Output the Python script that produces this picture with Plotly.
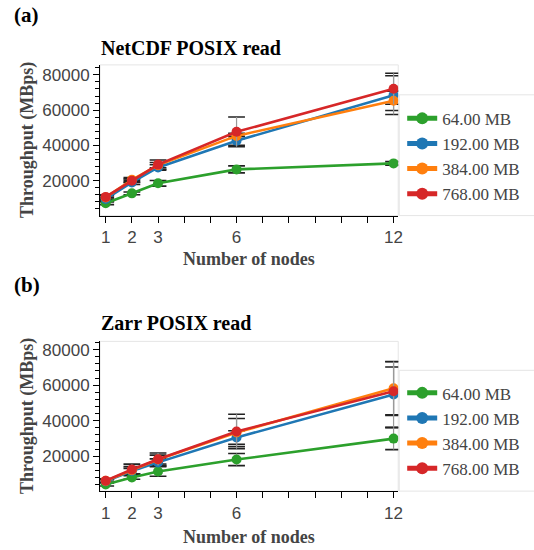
import plotly.graph_objects as go

nodes = [1, 2, 3, 6, 12]
x_tick_labels = {1: "1", 2: "2", 3: "3", 6: "6", 12: "12"}
sizes = ["64.00 MB", "192.00 MB", "384.00 MB", "768.00 MB"]
colors = ["#2ca02c", "#1f77b4", "#ff7f0e", "#d62728"]

# NetCDF POSIX read (MBps)
netcdf_64 = [7200, 12800, 18500, 26400, 29800]
netcdf_192 = [9600, 19000, 27500, 42600, 68500]
netcdf_384 = [10500, 20500, 28800, 45400, 65300]
netcdf_768 = [10800, 20000, 29100, 47700, 72100]
netcdf_64_err = [800, 800, 1600, 2000, 1000]
netcdf_192_err = [1000, 1200, 1500, 2500, 11000]
netcdf_384_err = [1000, 1200, 1500, 1500, 5500]
netcdf_768_err = [1200, 1000, 2600, 8400, 8800]

# Zarr POSIX read (MBps)
zarr_64 = [4100, 8000, 11400, 18100, 29900]
zarr_192 = [5900, 11600, 16500, 30500, 54700]
zarr_384 = [6100, 12100, 18100, 33300, 58300]
zarr_768 = [6200, 12500, 18300, 33900, 56600]
zarr_64_err = [900, 1000, 2700, 3400, 6200]
zarr_192_err = [800, 1500, 2000, 3800, 18500]
zarr_384_err = [800, 2000, 2500, 7900, 15000]
zarr_768_err = [1000, 3000, 3500, 9700, 13600]

W, H = 534, 550
SERIF = "Liberation Serif, Times New Roman, serif"
SANS = "Liberation Sans, Arial, Helvetica, sans-serif"


def px(x):
    return x / W


def py(y):
    return 1 - y / H


panels = [
    dict(title="NetCDF POSIX read", label="(a)",
         vals=[netcdf_64, netcdf_192, netcdf_384, netcdf_768],
         errs=[netcdf_64_err, netcdf_192_err, netcdf_384_err, netcdf_768_err],
         top=64, bottom=215, yrange=[190, 85660], legend_top=94, legend_y=100,
         label_y=14, title_y=47, xtitle_y=258, legend="legend"),
    dict(title="Zarr POSIX read", label="(b)",
         vals=[zarr_64, zarr_192, zarr_384, zarr_768],
         errs=[zarr_64_err, zarr_192_err, zarr_384_err, zarr_768_err],
         top=341, bottom=491, yrange=[320, 84670], legend_top=370, legend_y=375,
         label_y=285, title_y=323, xtitle_y=537, legend="legend2"),
]

fig = go.Figure()
annotations = []
shapes = []
layout_axes = {}
legends = {}

legend_common = dict(
    xanchor="left", yanchor="top", bgcolor="rgba(0,0,0,0)", borderwidth=0,
    font=dict(family=SERIF, size=17, color="#444"), itemsizing="constant",
    tracegroupgap=0,
)

for i, p in enumerate(panels):
    xa = "x" if i == 0 else "x2"
    ya = "y" if i == 0 else "y2"
    xkey = "xaxis" if i == 0 else "xaxis2"
    ykey = "yaxis" if i == 0 else "yaxis2"

    # whisker caps (drawn underneath the data)
    for vals, errs in zip(p["vals"], p["errs"]):
        fig.add_trace(go.Scatter(
            x=nodes + nodes,
            y=[v + e for v, e in zip(vals, errs)] + [v - e for v, e in zip(vals, errs)],
            mode="markers", xaxis=xa, yaxis=ya, showlegend=False, hoverinfo="skip",
            marker=dict(symbol="line-ew", size=12, color="#222",
                        line=dict(color="#222", width=1.6)),
        ))

    for name, col, vals, errs in zip(sizes, colors, p["vals"], p["errs"]):
        fig.add_trace(go.Scatter(
            x=nodes, y=vals, name=name, mode="lines+markers",
            xaxis=xa, yaxis=ya, legend=p["legend"],
            line=dict(color=col, width=2.6),
            marker=dict(color=col, size=10),
            error_y=dict(type="data", array=errs, visible=True,
                         color="#999", thickness=1.2, width=0),
        ))

    layout_axes[xkey] = dict(
        domain=[px(101), px(402)], anchor=ya, range=[0.784, 12.178],
        tickvals=list(range(1, 13)),
        ticktext=[x_tick_labels.get(k, "") for k in range(1, 13)],
        ticks="outside", ticklen=6, tickcolor="black", tickwidth=1,
        showline=True, linecolor="black", linewidth=1,
        showgrid=False, zeroline=False,
        tickfont=dict(family=SANS, size=17, color="#444"),
    )
    layout_axes[ykey] = dict(
        domain=[py(p["bottom"]), py(p["top"])], anchor=xa, range=p["yrange"],
        tick0=0, dtick=20000, tickmode="linear", tickformat="d",
        ticks="outside", ticklen=6, tickcolor="black", tickwidth=1,
        minor=dict(dtick=4000, tick0=0, ticks="outside", ticklen=4,
                   tickcolor="black", showgrid=False),
        showline=True, linecolor="black", linewidth=1,
        showgrid=False, zeroline=False,
        tickfont=dict(family=SANS, size=17, color="#444"),
    )

    # light outline of the plot frame
    shapes.append(dict(type="rect", xref=f"{xa} domain", yref=f"{ya} domain",
                       x0=0, x1=1, y0=0, y1=1, layer="below",
                       line=dict(color="#e5e5e5", width=1)))
    # legend box
    shapes.append(dict(type="rect", xref="paper", yref="paper",
                       x0=px(403), x1=1.05, y0=py(p["bottom"]), y1=py(p["legend_top"]),
                       line=dict(color="#e5e5e5", width=1), fillcolor="white", layer="below"))

    legends[p["legend"]] = dict(x=px(406), y=py(p["legend_y"]), **legend_common)

    annotations += [
        dict(text="<b>" + p["label"] + "</b>", x=px(12), y=py(p["label_y"]),
             xanchor="left", yanchor="middle", showarrow=False, xref="paper", yref="paper",
             font=dict(family=SERIF, size=21, color="black")),
        dict(text="<b>" + p["title"] + "</b>", x=px(100), y=py(p["title_y"]),
             xanchor="left", yanchor="middle", showarrow=False, xref="paper", yref="paper",
             font=dict(family=SERIF, size=20, color="black")),
        dict(text="<b>Throughput (MBps)</b>", x=px(27), y=py((p["top"] + p["bottom"]) / 2),
             xanchor="center", yanchor="middle", textangle=-90, showarrow=False,
             xref="paper", yref="paper",
             font=dict(family=SERIF, size=18, color="#444")),
        dict(text="<b>Number of nodes</b>", x=px(251.5), y=py(p["xtitle_y"]),
             xanchor="center", yanchor="middle", showarrow=False, xref="paper", yref="paper",
             font=dict(family=SERIF, size=18, color="#444")),
    ]

fig.update_layout(
    width=W, height=H,
    margin=dict(l=0, r=0, t=0, b=0),
    paper_bgcolor="white", plot_bgcolor="white",
    annotations=annotations, shapes=shapes,
    **legends,
    **layout_axes,
)

fig.write_html(
    "out.html",
    config={"displayModeBar": False},
    post_script="document.body.style.margin='0';document.body.style.overflow='hidden';",
)
